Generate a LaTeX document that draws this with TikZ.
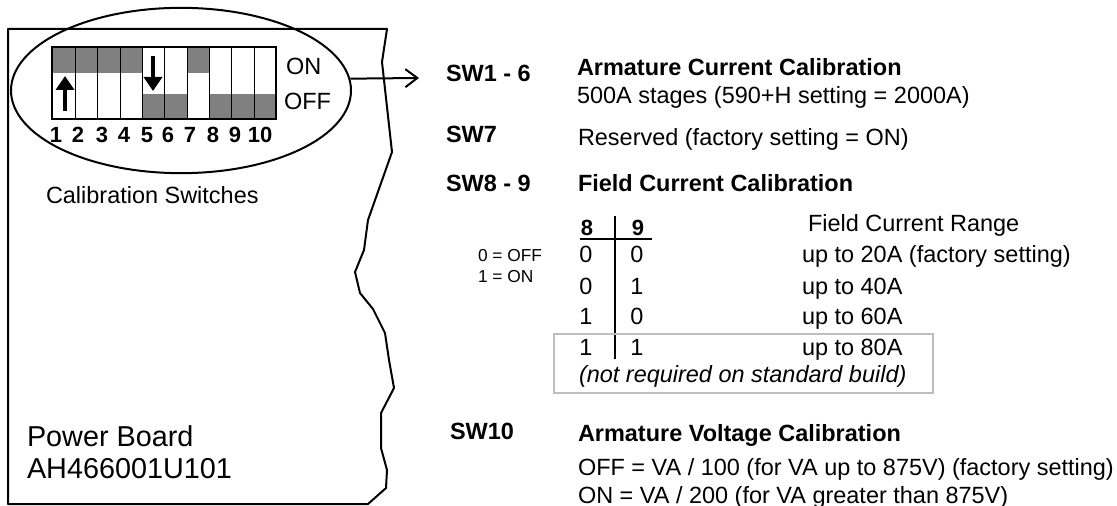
\documentclass[tikz,border=0pt]{standalone}
\usepackage{fontspec}
\setmainfont{Liberation Sans}
\usetikzlibrary{shapes,arrows.meta}
\definecolor{swgrey}{HTML}{808080}
\definecolor{boxgrey}{HTML}{BEBEBE}
\tikzset{>=stealth}
\tikzset{
    txt/.style={anchor=base west,inner sep=0pt,font=\fontsize{17.6}{20}\selectfont},
    txtb/.style={txt,font=\fontsize{17.6}{20}\selectfont\bfseries},
    txtc/.style={anchor=base,inner sep=0pt,font=\fontsize{17.6}{20}\selectfont},
    digit/.style={anchor=base,inner sep=0pt,font=\fontsize{16.5}{20}\selectfont\bfseries},
    small/.style={anchor=base west,inner sep=0pt,font=\fontsize{13}{16}\selectfont},
    big/.style={anchor=base west,inner sep=0pt,font=\fontsize{21.6}{25}\selectfont},
    swarrow/.style={line width=3pt,-{Triangle[length=10.5pt,width=13.5pt]}},
}
\begin{document}
\begin{tikzpicture}[x=.75pt,y=-.75pt,line width=1.5pt]
    \useasboundingbox (0,0) rectangle (1117,506);

    % board
    \draw[line join=round] (8,504) -- (8,29) -- (387,29) -- (382,62) -- (392,152) -- (368,220)
        -- (364,250) -- (355,272) -- (360,293) -- (373,309) -- (385,333) -- (389,360)
        -- (394,388) -- (381,413) -- (381,448) -- (387,470) -- (386,488) -- (368,504) -- cycle;

    % switches
    \draw[fill=swgrey,draw=none] (52,47) rectangle (142,73);
    \draw[fill=swgrey,draw=none] (187,47) rectangle (210,73);
    \draw[fill=swgrey,draw=none] (142,94) rectangle (187,119);
    \draw[fill=swgrey,draw=none] (209,94) rectangle (276,119);
    \foreach \x in {75,97,120,142,164,187,209,231,254}
        \draw[line width=.7pt] (\x,47) -- (\x,119);
    \draw[line width=1.8pt] (52,47) rectangle (276,119);

    \draw[swarrow] (65,111) -- (65,76);
    \draw[swarrow] (153,56) -- (153,91);

    \foreach \n/\x in {1/56,2/78,3/102,4/124,5/147,6/168,7/190,8/213,9/235}
        \node[digit] (num\n) at (\x,143) {\n};
    \node[digit] (num10) at (260,143) {10};
    \node[txt] (on) at (285,75) {ON};
    \node[txt] (off) at (283,110) {OFF};

    \node[ellipse,draw,inner sep=0pt,minimum width=255pt,minimum height=124pt] (caldisc) at (181,90.5) {};
    \coordinate (armtip) at (419,78);
    \draw[-{Straight Barb[length=9pt,width=13.5pt]}] (caldisc.4.3) -- (armtip);

    \node[txt] (calsw) at (45,204) {Calibration Switches};
    \node[big] (board) at (26,446) {Power Board};
    \node[big] (boardno) at (26,478) {AH466001U101};

    % sw1-6
    \node[txtb] (swa) at (445,82) {SW1 - 6};
    \node[txtb] (arm) at (576,76) {Armature Current Calibration};
    \node[txt] (stages) at (576,104) {500A stages (590+H setting = 2000A)};

    % sw7
    \node[txtb] (swb) at (445,143) {SW7};
    \node[txt] (res) at (577,146) {Reserved (factory setting = ON)};

    % sw8-9
    \node[txtb] (swc) at (445,191) {SW8 - 9};
    \node[txtb] (field) at (577,191) {Field Current Calibration};
    \node[txt] (range) at (807,231) {Field Current Range};

    \node[digit] (hdeight) at (587,235) {8};
    \node[digit] (hdnine) at (638,235) {9};
    \draw[line width=1.8pt] (580,239) -- (652,239);
    \draw[line width=1.8pt] (615,216) -- (615,359);

    \node[small] (zero) at (477,261) {0 = OFF};
    \node[small] (one) at (477,282) {1 = ON};

    \foreach \r/\a/\b/\y/\t in {a/0/0/262/up to 20A (factory setting),b/0/1/294/up to 40A,c/1/0/324/up to 60A,d/1/1/355/up to 80A}{
        \node[txtc] (l\r) at (586,\y) {\a};
        \node[txtc] (r\r) at (637,\y) {\b};
        \node[txt] (t\r) at (801,\y) {\t};
    }

    \draw[boxgrey,line width=2pt] (554,334) rectangle (933,393);
    \node[txt] (build) at (578,382) {\itshape (not required on standard build)};

    % sw10
    \node[txtb] (swd) at (449,439) {SW10};
    \node[txtb] (volt) at (577,441) {Armature Voltage Calibration};
    \node[txt] (offva) at (577,475) {OFF = VA / 100 (for VA up to 875V) (factory setting)};
    \node[txt] (onva) at (577,503) {ON = VA / 200 (for VA greater than 875V)};
\end{tikzpicture}
\end{document}
